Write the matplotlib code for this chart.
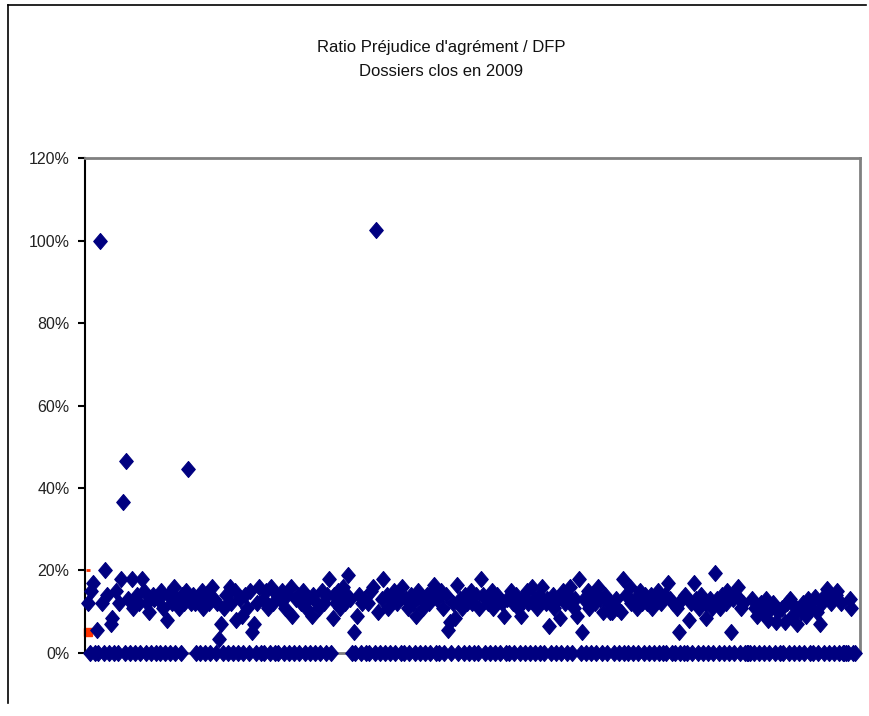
import matplotlib

matplotlib.use("Agg")
import matplotlib.pyplot as plt
from matplotlib.lines import Line2D
from matplotlib.ticker import FuncFormatter, MultipleLocator

plt.rcParams["font.family"] = ["Liberation Sans Narrow", "Liberation Sans", "DejaVu Sans"]

TITLE = "Ratio Préjudice d'agrément / DFP\nDossiers clos en 2009"

# ratio (en %) par dossier, dans l'ordre des dossiers (0 = pas de préjudice)
RATIO = [
    12, 0, 15, 17, 0, 5.5, 0, 100, 12, 0, 20, 14, 0, 7, 8.5, 0, 15, 0, 12, 18,
    36.5, 0, 46.5, 13, 0, 18, 11, 0, 14, 12, 0, 18, 15, 0, 12, 10, 0, 14, 13, 0,
    13, 0, 15, 11, 0, 8, 14, 0, 12, 16, 0, 13, 11, 0, 14, 12, 15, 44.5, 13, 12,
    14, 12, 0, 13, 0, 15, 11, 0, 14, 12, 0, 16, 13, 0, 12, 3.5, 7, 0, 11, 14,
    0, 16, 12, 0, 15, 8, 0, 13, 9, 0, 14, 11, 0, 15, 5, 7, 0, 12, 16, 0,
    13, 0, 15, 11, 0, 16, 12, 0, 14, 0, 13, 15, 0, 11, 14, 0, 16, 9, 0, 13,
    14, 0, 12, 15, 0, 11, 13, 0, 9, 14, 0, 12, 11, 0, 15, 12, 0, 14, 18, 0,
    8.5, 14, 12, 15, 11, 13, 16, 12, 14, 19, 13, 0, 5, 0, 9, 14, 0, 12, 13, 0,
    12, 0, 15, 16, 0, 102.5, 10, 0, 13, 18, 0, 14, 11, 0, 13, 15, 0, 12, 14, 0,
    16, 0, 13, 11, 0, 14, 12, 0, 9, 15, 0, 13, 11, 0, 14, 12, 0, 15, 16.5, 0,
    13, 0, 15, 11, 0, 14, 5.5, 7.5, 0, 12, 8.5, 16.5, 0, 13, 11, 0, 14, 12, 0, 15,
    12, 0, 14, 0, 11, 18, 14, 0, 13, 12, 0, 15, 11, 0, 14, 13, 0, 12, 9, 0,
    13, 0, 15, 12, 0, 14, 11, 0, 9, 13, 0, 15, 12, 0, 16, 13, 0, 11, 14, 0,
    16, 0, 12, 13, 6.5, 0, 14, 11, 0, 13, 8.5, 0, 15, 12, 0, 14, 16, 0, 11, 13,
    9, 18, 0, 5, 13, 0, 15, 11, 0, 14, 12, 0, 16, 13, 0, 10, 14, 0, 12, 10,
    10, 0, 13, 11, 0, 10, 18, 0, 14, 0, 16, 12, 0, 13, 11, 0, 15, 12, 0, 14,
    12, 0, 14, 11, 0, 13, 15, 0, 12, 0, 14, 0, 17, 13, 0, 12, 0, 11, 5, 0,
    13, 0, 14, 0, 8, 12, 0, 17, 13, 0, 11, 14, 0, 12, 8.5, 0, 13, 11, 0, 19.5,
    13, 0, 11, 14, 0, 12, 15, 0, 5, 13, 0, 14, 16, 0, 11, 12, 0, 0, 0, 0,
    13, 0, 11, 9, 0, 12, 10, 0, 13, 8, 0, 11, 12, 0, 7.5, 10, 0, 11, 0, 7.5,
    12, 0, 13, 9, 0, 11, 7, 0, 10, 12, 0, 9, 13, 0, 11, 0, 13.5, 10, 0, 7,
    12, 0, 14, 15.5, 0, 12, 13, 0, 14, 15, 0, 12, 0, 0, 0, 0, 13, 11, 0, 0,
]
DOSSIERS = list(range(len(RATIO)))

# seconde série (rouge), sur le premier dossier
RED_SQUARE = [5.0]
RED_DASH = [20.0]

# losange un peu plus haut que large, comme Excel
DIAMOND = [(0, 1), (0.85, 0), (0, -1), (-0.85, 0), (0, 1)]

fig = plt.figure(figsize=(8.69, 7.16), dpi=100)
ax = fig.add_axes([0.0978, 0.088, 0.8918, 0.6913])

ax.plot(DOSSIERS, RATIO, linestyle="none", marker=DIAMOND, markersize=11.5,
        color="#000080", markeredgecolor="#000080", markeredgewidth=0.8,
        clip_on=False, zorder=3)
ax.plot([0], RED_SQUARE, linestyle="none", marker="s", markersize=5.5,
        color="#ff3300", clip_on=False, zorder=2)
ax.plot([0], RED_DASH, linestyle="none", marker="_", markersize=3,
        markeredgewidth=2, color="#ff3300", clip_on=False, zorder=2)

ax.set_xlim(-1.72, len(RATIO) + 1.86)
ax.set_ylim(0, 120)
ax.yaxis.set_major_locator(MultipleLocator(20))
ax.yaxis.set_major_formatter(FuncFormatter(lambda v, _: f"{v:.0f}%"))
ax.set_xticks([])
ax.tick_params(axis="y", direction="out", length=5, width=1.5,
               labelsize=11.5, pad=6, colors="black")
for tl in ax.get_yticklabels():
    tl.set_color("#222222")

ax.spines["left"].set_color("black")
ax.spines["left"].set_linewidth(1.5)
for side in ("top", "right", "bottom"):
    ax.spines[side].set_color("#808080")
    ax.spines[side].set_linewidth(2)

fig.text(0.508, 0.917, TITLE, ha="center", va="center", fontsize=12,
         linespacing=1.75, color="#111111")

# cadre de la zone graphique (haut et gauche)
W, H = 869, 716
fig.add_artist(Line2D([8 / W, 866 / W], [1 - 5 / H, 1 - 5 / H], color="black", lw=1.2))
fig.add_artist(Line2D([8 / W, 8 / W], [1 - 5 / H, 1 - 703 / H], color="black", lw=1.2))

fig.savefig("out.png", dpi=100)
